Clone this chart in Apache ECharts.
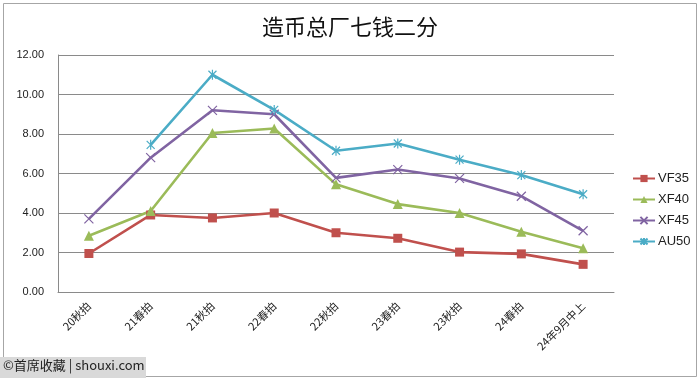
<!DOCTYPE html>
<html>
<head>
<meta charset="utf-8">
<script src="https://cdn.jsdelivr.net/npm/echarts@6/dist/echarts.min.js"></script>
<style>
  html, body { margin: 0; padding: 0; background: #fff; }
  #main { width: 700px; height: 378px; }
</style>
</head>
<body>
<div id="main"></div>
<script>
// 拍卖场次
var categories = ['20秋拍', '21春拍', '21秋拍', '22春拍', '22秋拍', '23春拍', '23秋拍', '24春拍', '24年9月中上'];

// 各品相价格（万元）
var vf35 = [1.95, 3.9, 3.75, 4.0, 3.0, 2.72, 2.02, 1.93, 1.4];
var xf40 = [2.85, 4.1, 8.05, 8.28, 5.45, 4.45, 4.0, 3.05, 2.22];
var xf45 = [3.7, 6.8, 9.2, 9.0, 5.78, 6.2, 5.75, 4.85, 3.1];
var au50 = ['-', 7.45, 11.0, 9.22, 7.15, 7.52, 6.7, 5.92, 4.95];

var yTicks = { min: 0, max: 12, interval: 2 };

var xPath = 'path://M0,0L10,10M10,0L0,10';
var starPath = 'path://M1,1L9,9M9,1L1,9M5,0L5,10';

var myChart = echarts.init(document.getElementById('main'));

function line(name, data, color, symbol, size, stroke) {
  return {
    name: name,
    type: 'line',
    data: data,
    symbol: symbol,
    symbolSize: size,
    symbolKeepAspect: true,
    lineStyle: { color: color, width: 2.6 },
    itemStyle: stroke
      ? { color: color, borderColor: color, borderWidth: 1.2 }
      : { color: color },
    emphasis: { disabled: true },
    animation: false
  };
}

myChart.setOption({
  backgroundColor: '#fff',
  title: {
    text: '造币总厂七钱二分',
    left: 'center',
    top: 11,
    textStyle: {
      fontFamily: 'Noto Sans CJK SC',
      fontSize: 22,
      fontWeight: 'normal',
      color: '#111'
    }
  },
  legend: {
    orient: 'vertical',
    left: 627,
    top: 167,
    itemGap: 8,
    itemWidth: 22,
    itemHeight: 9,
    textStyle: { fontFamily: 'Liberation Sans', fontSize: 13, color: '#222', padding: [0, 0, 0, -2] },
    data: ['VF35', 'XF40', 'XF45', 'AU50']
  },
  grid: { left: 58, right: 86, top: 55, bottom: 86 },
  xAxis: {
    type: 'category',
    data: categories,
    boundaryGap: true,
    axisLine: { lineStyle: { color: '#8a8a8a', width: 1 } },
    axisTick: { show: false },
    axisLabel: {
      rotate: 45,
      margin: 12,
      interval: 0,
      fontFamily: 'Noto Sans CJK SC',
      fontSize: 11,
      color: '#222'
    }
  },
  yAxis: {
    type: 'value',
    min: yTicks.min,
    max: yTicks.max,
    interval: yTicks.interval,
    axisLine: { show: true, lineStyle: { color: '#8a8a8a', width: 1 } },
    axisTick: { show: false },
    splitLine: { lineStyle: { color: '#8a8a8a', width: 1 } },
    axisLabel: {
      margin: 14,
      fontFamily: 'Liberation Sans',
      fontSize: 11,
      color: '#222',
      formatter: function (v) { return v.toFixed(2); }
    }
  },
  graphic: [
    {
      type: 'rect',
      shape: { x: 3.5, y: 3.5, width: 693, height: 373 },
      style: { fill: 'none', stroke: '#a6a6a6', lineWidth: 1 },
      silent: true
    },
    {
      type: 'rect',
      shape: { x: 0, y: 357, width: 146, height: 21 },
      style: { fill: '#d9d9d9' },
      silent: true,
      z: 10
    },
    {
      type: 'text',
      left: 3,
      top: 359,
      z: 11,
      style: {
        text: '©首席收藏 | shouxi.com',
        fontFamily: 'Noto Sans CJK SC',
        fontSize: 13,
        fill: '#222'
      }
    }
  ],
  series: [
    line('VF35', vf35, '#c0504d', 'rect', 9, false),
    line('XF40', xf40, '#9bbb59', 'triangle', 10, false),
    line('XF45', xf45, '#8064a2', xPath, 9, true),
    line('AU50', au50, '#4bacc6', starPath, 10, true)
  ]
});
</script>
</body>
</html>
